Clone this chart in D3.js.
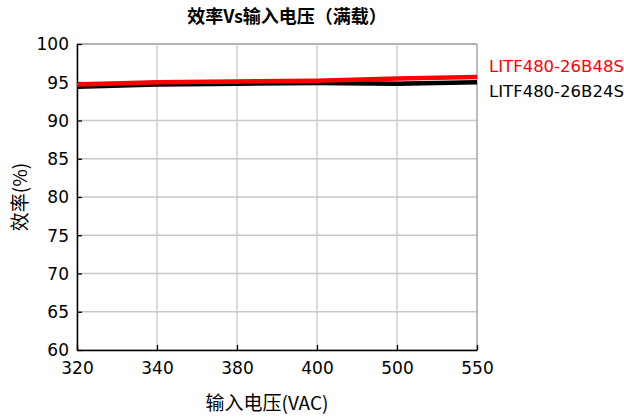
<!DOCTYPE html>
<html><head><meta charset="utf-8">
<script src="https://cdn.jsdelivr.net/npm/d3@7"></script>
<style>body{margin:0;background:#fff}svg{display:block}text{font-family:"Noto Sans CJK SC","DejaVu Sans",sans-serif}</style>
</head><body><svg id="c" width="624" height="419"></svg>
<script>
const categories = ["320","340","380","400","500","550"];
const seriesB48S = [94.7, 95.0, 95.1, 95.2, 95.5, 95.7];
const seriesB24S = [94.4, 94.7, 94.8, 94.9, 94.8, 95.0];
const yTicks = [60,65,70,75,80,85,90,95,100];
const seriesNames = ["LITF480-26B48S","LITF480-26B24S"];
const seriesColors = ["#ff0000","#000000"];

const svg = d3.select("#c");
const L=77, R=477, T=44, B=350;
const x = d3.scalePoint().domain(categories).range([L,R]);
const y = d3.scaleLinear().domain([60,100]).range([B,T]);

// grid
svg.append("g").selectAll("line").data(yTicks).join("line")
  .attr("x1",L).attr("x2",R).attr("y1",d=>y(d)).attr("y2",d=>y(d))
  .attr("stroke",d=>d===100?"#999":"#c8c8c8").attr("stroke-width",1.3);
svg.append("g").selectAll("line").data(categories).join("line")
  .attr("y1",T).attr("y2",B).attr("x1",d=>x(d)).attr("x2",d=>x(d))
  .attr("stroke",d=>d==="550"?"#999":"#c8c8c8").attr("stroke-width",1.3);

// axes
const yAxis = d3.axisLeft(y).tickValues(yTicks).tickSizeInner(-5).tickSizeOuter(0).tickPadding(8);
const gy = svg.append("g").attr("transform",`translate(${L},0)`).call(yAxis);
const xAxis = d3.axisBottom(x).tickSizeInner(-5).tickSizeOuter(0).tickPadding(9);
const gx = svg.append("g").attr("transform",`translate(0,${B})`).call(xAxis);
[gy,gx].forEach(g=>{
  g.selectAll(".domain").attr("stroke","#000").attr("stroke-width",1.5);
  g.selectAll(".tick line").attr("stroke","#000").attr("stroke-width",1.3);
  g.selectAll("text").attr("font-size",17).attr("fill","#000").style("font-family","'DejaVu Sans',sans-serif");
});
gy.selectAll(".tick text").attr("dy","0.35em");
gx.selectAll(".tick text").attr("dy","0.9em");

// lines
const line = d3.line().x((d,i)=>x(categories[i])).y(d=>y(d));
svg.append("path").datum(seriesB24S).attr("d",line).attr("fill","none")
  .attr("stroke",seriesColors[1]).attr("stroke-width",4.5);
svg.append("path").datum(seriesB48S).attr("d",line).attr("fill","none")
  .attr("stroke",seriesColors[0]).attr("stroke-width",4.5);

// legend
seriesNames.forEach((n,i)=>{
  svg.append("text").attr("x",489).attr("y",72+i*25).attr("font-size",16.5)
    .attr("fill",seriesColors[i]).style("font-family","'DejaVu Sans',sans-serif").text(n);
});

// titles
svg.append("text").attr("x",287).attr("y",23).attr("text-anchor","middle")
  .attr("font-size",18).attr("font-weight","bold").text("效率Vs输入电压（满载）");
svg.append("text").attr("x",267).attr("y",410).attr("text-anchor","middle")
  .attr("font-size",19).text("输入电压(VAC)");
svg.append("text").attr("transform","translate(27,197) rotate(-90)").attr("text-anchor","middle")
  .attr("font-size",19).text("效率(%)");
</script></body></html>
